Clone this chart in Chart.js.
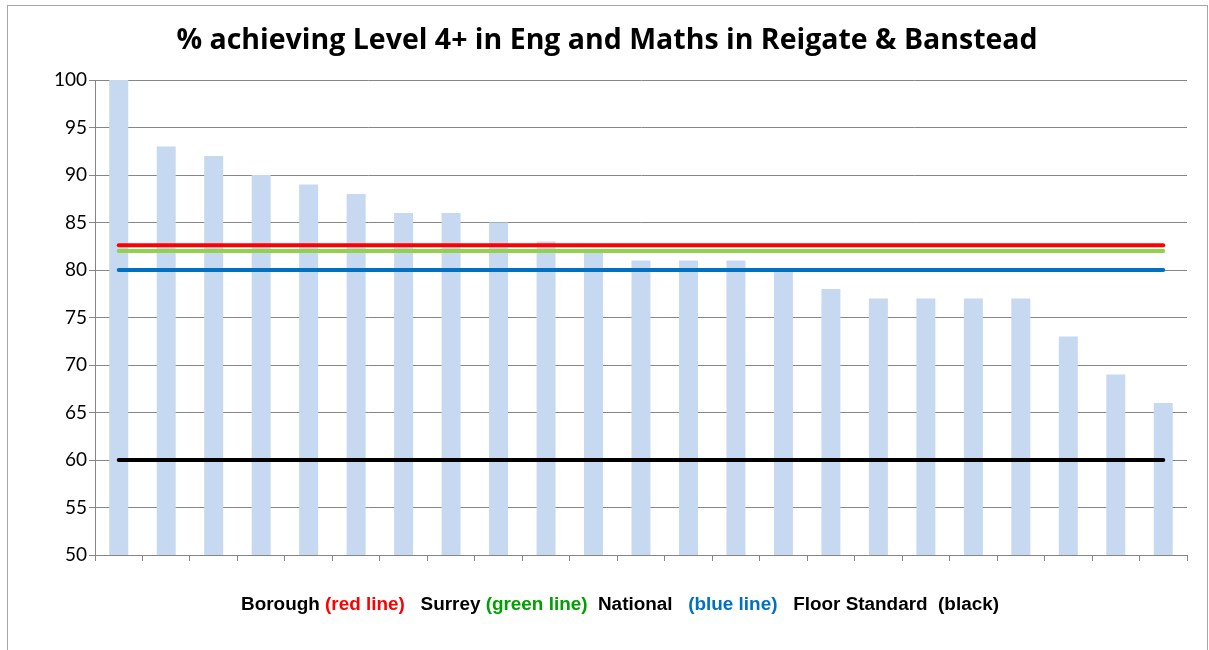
<!DOCTYPE html>
<html>
<head>
<meta charset="utf-8">
<script src="https://cdn.jsdelivr.net/npm/chart.js@4"></script>
<style>
    html, body { margin: 0; padding: 0; background: #fff; }
    body { width: 1209px; height: 650px; position: relative; overflow: hidden; }
    .frame {
        position: absolute; left: 7px; top: 5px; width: 1201px; height: 660px;
        border: 1px solid #a6a6a6; box-sizing: border-box;
    }
    .chart-box { position: absolute; left: 0; top: 0; width: 1209px; height: 650px; }
    .legend-text {
        position: absolute; left: 0; width: 1240px; top: 595px; text-align: center;
        font-family: "Liberation Sans", Arial, sans-serif; font-weight: bold; font-size: 18.9px;
        line-height: 18.5px; white-space: pre; color: #000;
    }
    .red { color: #ff0000; }
    .green { color: #00a000; }
    .blue { color: #0070c0; }
</style>
</head>
<body>
<div class="frame"></div>
<div class="chart-box"><canvas id="levelChart"></canvas></div>
<div class="legend-text">Borough <span class="red">(red line)</span>   Surrey <span class="green">(green line)</span>  National   <span class="blue">(blue line)</span>   Floor Standard  (black)</div>

<script>
// 學校（無標籤）
const categories = ['1', '2', '3', '4', '5', '6', '7', '8', '9', '10', '11', '12',
    '13', '14', '15', '16', '17', '18', '19', '20', '21', '22', '23'];
const schoolValues = [100, 93, 92, 90, 89, 88, 86, 86, 85, 83, 82, 81, 81, 81, 80, 78, 77, 77, 77, 77, 73, 69, 66];
const yTicks = [50, 55, 60, 65, 70, 75, 80, 85, 90, 95, 100];

// 參考線
const boroughValue = 82.6;
const surreyValue = 82;
const nationalValue = 80;
const floorValue = 60;

function levelLine(label, value, color) {
    return {
        type: 'line',
        label: label,
        data: categories.map(() => value),
        borderColor: color,
        backgroundColor: color,
        borderWidth: 4,
        borderCapStyle: 'round',
        pointRadius: 0,
        fill: false,
        order: 0
    };
}

document.addEventListener('DOMContentLoaded', function() {
    const ctx = document.getElementById('levelChart').getContext('2d');
    window.levelChart = new Chart(ctx, {
        type: 'bar',
        data: {
            labels: categories,
            datasets: [
                levelLine('Borough', boroughValue, '#ff0000'),
                levelLine('Surrey', surreyValue, '#92d050'),
                levelLine('National', nationalValue, '#0070c0'),
                levelLine('Floor Standard', floorValue, '#000000'),
                {
                    label: 'School',
                    data: schoolValues,
                    backgroundColor: '#c6d9f1',
                    borderWidth: 0,
                    barPercentage: 0.4,
                    categoryPercentage: 1.0,
                    order: 1
                }
            ]
        },
        options: {
            responsive: true,
            maintainAspectRatio: false,
            animation: false,
            layout: { padding: { left: 27, right: 22, top: 0, bottom: 0 } },
            plugins: {
                legend: { display: false },
                tooltip: { enabled: false },
                title: {
                    display: true,
                    text: '% achieving Level 4+ in Eng and Maths in Reigate & Banstead',
                    color: '#000',
                    font: { family: '"Open Sans", Lato, sans-serif', size: 28.5, weight: 'bold', lineHeight: 1.2 },
                    padding: { top: 24, bottom: 21.8 }
                }
            },
            scales: {
                x: {
                    grid: {
                        drawOnChartArea: false,
                        drawTicks: true,
                        tickLength: 6,
                        color: '#868686'
                    },
                    border: { color: '#868686', width: 1 },
                    ticks: { display: false },
                    afterFit: function(scale) { scale.height = 95; }
                },
                y: {
                    min: 50,
                    max: 100,
                    afterBuildTicks: function(scale) {
                        scale.ticks = yTicks.map(v => ({ value: v }));
                    },
                    grid: {
                        color: '#868686',
                        lineWidth: 1,
                        tickLength: 6
                    },
                    border: { color: '#868686', width: 1 },
                    ticks: {
                        color: '#000',
                        padding: 2,
                        font: { family: 'Lato, "Open Sans", sans-serif', size: 19 }
                    },
                    afterFit: function(scale) { scale.width = 68; }
                }
            }
        }
    });
});
</script>
</body>
</html>
